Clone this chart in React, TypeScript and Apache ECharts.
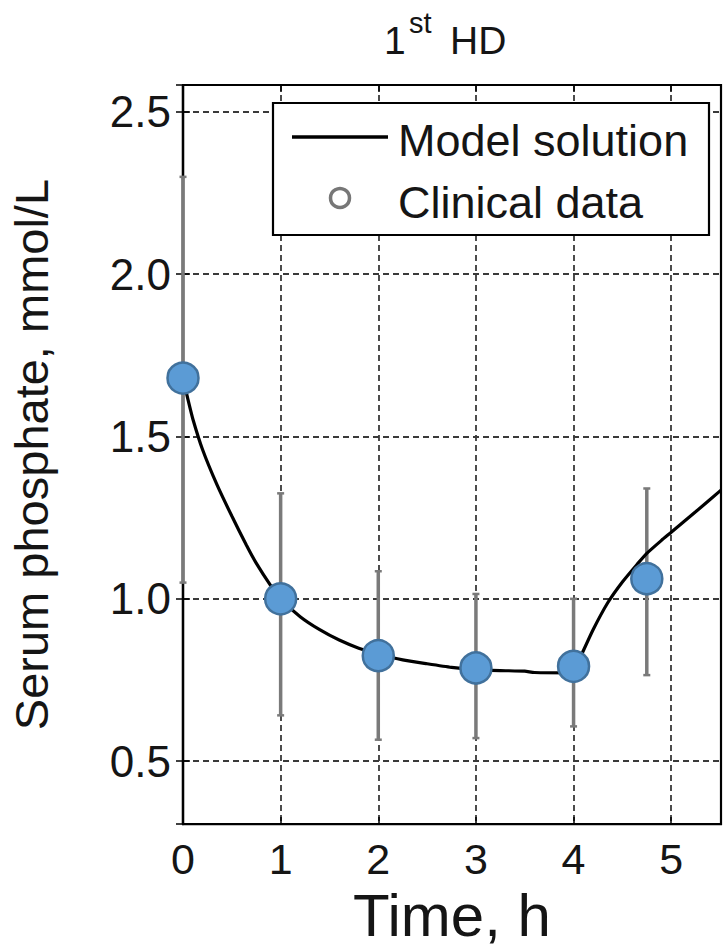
import React, { useEffect, useRef } from "react";
import * as echarts from "echarts";

// Model solution (time h, serum phosphate mmol/L)
const modelTime = [0, 0.05, 0.1, 0.2, 0.35, 0.5, 0.65, 0.75, 0.9, 1.0, 1.2, 1.4, 1.6, 1.8, 2.0, 2.25, 2.5, 2.75, 3.0, 3.25, 3.5, 3.6, 4.0, 4.05, 4.1, 4.2, 4.35, 4.5, 4.65, 4.75, 4.9, 5.0, 5.25, 5.51];
const modelValue = [1.68, 1.615, 1.555, 1.46, 1.35, 1.255, 1.165, 1.11, 1.04, 1.0, 0.945, 0.905, 0.873, 0.848, 0.83, 0.812, 0.8, 0.789, 0.782, 0.779, 0.777, 0.773, 0.772, 0.805, 0.84, 0.905, 0.988, 1.052, 1.106, 1.14, 1.18, 1.205, 1.268, 1.335];

// Clinical data
const dataTime = [0, 1, 2, 3, 4, 4.75];
const dataMean = [1.68, 1.0, 0.825, 0.787, 0.792, 1.062];
const dataUpper = [2.3, 1.325, 1.085, 1.015, 1.0, 1.34];
const dataLower = [1.05, 0.641, 0.566, 0.571, 0.607, 0.765];

const FONT = "'Liberation Sans', Arial, Helvetica, sans-serif";
const TEXT = "#151515";

export default function App() {
  const ref = useRef<HTMLDivElement>(null);

  useEffect(() => {
    if (!ref.current) return;
    const chart = echarts.init(ref.current, undefined, { renderer: "svg" });

    const xMin = 0, xMax = 5.51, yMin = 0.306, yMax = 2.583;

    const baseX = { type: "value", min: xMin, max: xMax, interval: 1 };
    const baseY = { type: "value", min: yMin, max: yMax, splitNumber: 5 };
    const tick = { show: true, inside: true, length: 7, lineStyle: { color: "#000", width: 1.5 } };
    const grid = { show: true, lineStyle: { color: "#3a3a3a", width: 1.8, type: [6, 4] }, showMinLine: false, showMaxLine: false };
    const frameLine = { show: true, lineStyle: { color: "#000", width: 2.2 } };

    const option: any = {
      animation: false,
      backgroundColor: "#fff",
      grid: {
        left: 183,
        right: 3,
        top: 85,
        bottom: 120,
        show: true,
        borderColor: "#000",
        borderWidth: 2.2,
        backgroundColor: "transparent",
      },
      xAxis: [
        {
          ...baseX,
          position: "bottom",
          name: "Time, h",
          nameLocation: "middle",
          nameGap: 60,
          nameTextStyle: { fontFamily: FONT, fontSize: 60, color: TEXT },
          axisLine: frameLine,
          axisTick: tick,
          axisLabel: {
            margin: 13,
            fontFamily: FONT,
            fontSize: 43,
            color: TEXT,
            formatter: (v: number) => (Math.abs(v - Math.round(v)) < 1e-6 ? String(Math.round(v)) : ""),
          },
          splitLine: grid,
        },
        {
          ...baseX,
          position: "top",
          axisLine: frameLine,
          axisTick: tick,
          axisLabel: { show: false },
          splitLine: { show: false },
        },
      ],
      yAxis: [
        {
          ...baseY,
          position: "left",
          name: "Serum phosphate, mmol/L",
          nameLocation: "middle",
          nameRotate: 90,
          nameGap: 128,
          nameTextStyle: { fontFamily: FONT, fontSize: 47, color: TEXT },
          axisLine: frameLine,
          axisTick: tick,
          axisLabel: {
            margin: 12,
            fontFamily: FONT,
            fontSize: 44,
            color: TEXT,
            formatter: (v: number) => (Math.abs(v * 2 - Math.round(v * 2)) < 1e-6 ? v.toFixed(1) : ""),
          },
          splitLine: grid,
        },
        {
          ...baseY,
          position: "right",
          axisLine: frameLine,
          axisTick: tick,
          axisLabel: { show: false },
          splitLine: { show: false },
        },
      ],
      series: [
        {
          name: "Clinical data (SD)",
          type: "custom",
          xAxisIndex: 0,
          yAxisIndex: 0,
          clip: false,
          z: 3,
          encode: { x: 0, y: [1, 2] },
          data: dataTime.map((t, i) => [t, dataLower[i], dataUpper[i]]),
          renderItem: (params: any, api: any) => {
            const x = api.value(0);
            const lo = api.coord([x, api.value(1)]);
            const hi = api.coord([x, api.value(2)]);
            const cap = 3.5;
            const st = { stroke: "#7a7a7a", lineWidth: 3.5 };
            return {
              type: "group",
              children: [
                { type: "line", shape: { x1: hi[0], y1: hi[1], x2: lo[0], y2: lo[1] }, style: st },
                { type: "line", shape: { x1: hi[0] - cap, y1: hi[1], x2: hi[0] + cap, y2: hi[1] }, style: { ...st, lineWidth: 2.5 } },
                { type: "line", shape: { x1: lo[0] - cap, y1: lo[1], x2: lo[0] + cap, y2: lo[1] }, style: { ...st, lineWidth: 2.5 } },
              ],
            };
          },
        },
        {
          name: "Model solution",
          type: "line",
          xAxisIndex: 0,
          yAxisIndex: 0,
          symbol: "none",
          smooth: 0.2,
          clip: true,
          z: 4,
          lineStyle: { color: "#000", width: 3.2 },
          data: modelTime.map((t, i) => [t, modelValue[i]]),
        },
        {
          name: "Clinical data",
          type: "scatter",
          xAxisIndex: 0,
          yAxisIndex: 0,
          clip: false,
          z: 5,
          symbol: "circle",
          symbolSize: 31,
          itemStyle: { color: "#5B9BD5", borderColor: "#41719C", borderWidth: 2.5, opacity: 1 },
          data: dataTime.map((t, i) => [t, dataMean[i]]),
        },
      ],
      graphic: [
        {
          type: "group",
          z: 100,
          children: [
            // title "1st HD" with superscript
            { type: "text", z: 101, style: { x: 384, y: 40, text: "1", font: `39px ${FONT}`, fill: TEXT, verticalAlign: "middle", align: "left" } },
            { type: "text", z: 101, style: { x: 409, y: 23, text: "st", font: `29px ${FONT}`, fill: TEXT, verticalAlign: "middle", align: "left" } },
            { type: "text", z: 101, style: { x: 450, y: 40, text: "HD", font: `39px ${FONT}`, fill: TEXT, verticalAlign: "middle", align: "left" } },
            // legend
            { type: "rect", z: 100, shape: { x: 273, y: 103, width: 436, height: 132 }, style: { fill: "#fff", stroke: "#000", lineWidth: 2.2 } },
            { type: "line", z: 101, shape: { x1: 292, y1: 137, x2: 388, y2: 137 }, style: { stroke: "#000", lineWidth: 3.5 } },
            { type: "circle", z: 101, shape: { cx: 340, cy: 198, r: 9.5 }, style: { fill: "none", stroke: "#777", lineWidth: 3.5 } },
            { type: "text", z: 101, style: { x: 398, y: 140, text: "Model solution", font: `45px ${FONT}`, fill: TEXT, verticalAlign: "middle", align: "left" } },
            { type: "text", z: 101, style: { x: 398, y: 202, text: "Clinical data", font: `45px ${FONT}`, fill: TEXT, verticalAlign: "middle", align: "left" } },
          ],
        },
      ],
    };

    chart.setOption(option);
    return () => chart.dispose();
  }, []);

  return (
    <div
      ref={ref}
      style={{ position: "absolute", left: 0, top: 0, width: 724, height: 950, background: "#fff" }}
    />
  );
}
